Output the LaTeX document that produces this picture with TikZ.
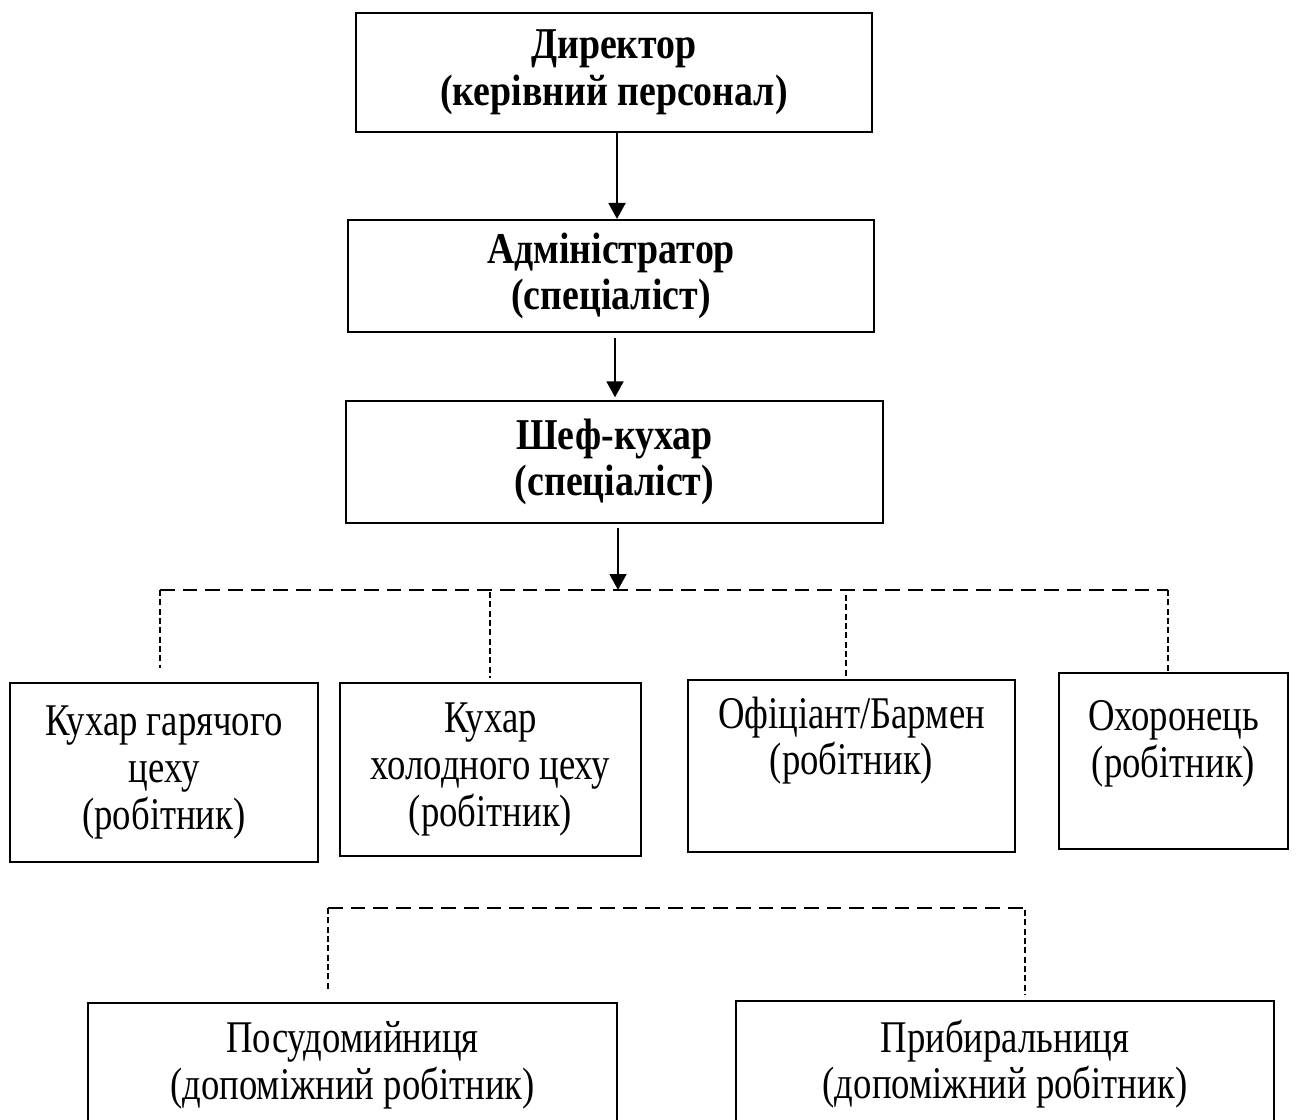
\documentclass[tikz,border=0pt]{standalone}
\usepackage{fontspec}
\setmainfont{Liberation Serif}[FakeStretch=0.81]
\newfontfamily\boldface{Liberation Serif Bold}[FakeStretch=0.86]
\usetikzlibrary{arrows.meta}
\begin{document}
\begin{tikzpicture}[x=0.75pt,y=-0.75pt,
  box/.style={draw, line width=1.5pt, inner sep=0pt, align=center,
    font=\fontsize{34pt}{35pt}\selectfont},
  boldbox/.style={box, font=\fontsize{33pt}{35pt}\boldface},
  arr/.style={line width=2.2pt, -{Triangle[length=12pt,width=12.5pt]}},
  bus/.style={line width=1.5pt, dash pattern=on 11pt off 6pt},
  drop/.style={line width=1pt, dash pattern=on 4.5pt off 2.5pt}]
\useasboundingbox (0,0) rectangle (1297,1120);
\clip (0,0) rectangle (1297,1120);
\fill[white] (0,0) rectangle (1297,1120);

\node[boldbox, minimum width=387pt, minimum height=89.25pt] (dir) at (614,72.5)
  {Директор\\(керівний персонал)};
\node[boldbox, minimum width=394.5pt, minimum height=84pt] (adm) at (611,276)
  {Адміністратор\\(спеціаліст)};
\node[boldbox, minimum width=402.75pt, minimum height=91.5pt] (chef) at (614.5,462)
  {Шеф-кухар\\(спеціаліст)};

\node[box, minimum width=231pt, minimum height=134.25pt] (k1) at (164,772.5)
  {Кухар гарячого\\цеху\\(робітник)};
\node[box, minimum width=225.75pt, minimum height=129.75pt] (k2) at (490.5,769.5)
  {Кухар\\холодного цеху\\(робітник)};
\node[box, minimum width=245.25pt, minimum height=129pt] (k3) at (851.5,766)
  {Офіціант/Бармен\\(робітник)\\\strut};
\node[box, minimum width=171.75pt, minimum height=132pt] (k4) at (1173.5,761)
  {\rule{0pt}{35pt}Охоронець\\(робітник)\\\strut};

\node[box, minimum width=396.75pt, minimum height=93pt] (p1) at (352.5,1065)
  {Посудомийниця\\(допоміжний робітник)};
\node[box, minimum width=403.5pt, minimum height=94.5pt] (p2) at (1005,1064)
  {Прибиральниця\\(допоміжний робітник)};

% coordinates
\coordinate (a1) at (617,0);
\coordinate (a2) at (615,0);
\coordinate (a3) at (618,0);
\coordinate (busL) at (160,590);
\coordinate (busR) at (1168,590);
\coordinate (bus2L) at (328,908);
\coordinate (bus2R) at (1025,908);

% arrows
\draw[arr] (dir.south -| a1) -- (adm.north -| a1);
\draw[arr] ([yshift=-4pt]adm.south -| a2) -- ([yshift=2pt]chef.north -| a2);
\draw[arr] ([yshift=-3pt]chef.south -| a3) -- (busL -| a3);

% first bus
\draw[bus] (busL) -- (busR);
\draw[drop] (busL) -- (160,668);
\draw[drop] (490,592) -- (490,678);
\draw[drop] (846,595) -- (k3.north -| 846,0);
\draw[drop] (busR) -- (1168,672);

% second bus
\draw[bus] (bus2L) -- (bus2R);
\draw[drop] (bus2L) -- (328,990);
\draw[drop] (1025,910) -- (1025,995);
\end{tikzpicture}
\end{document}
